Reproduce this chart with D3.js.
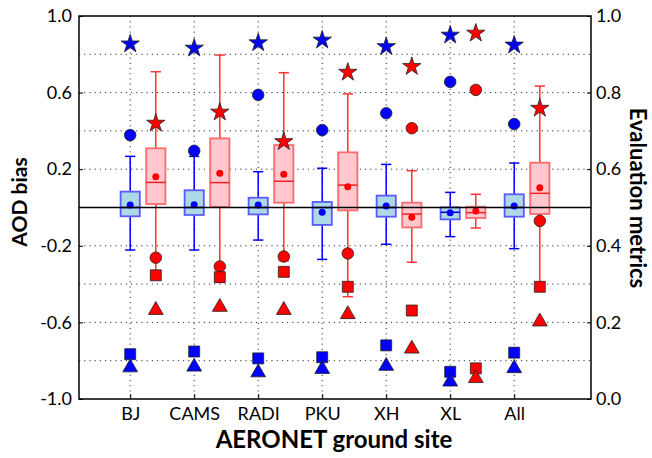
<!DOCTYPE html>
<html><head><meta charset="utf-8">
<script src="https://cdn.jsdelivr.net/npm/d3@7"></script>
<style>body{margin:0;background:#fff}svg{display:block}text{font-family:Lato,"Open Sans",sans-serif}</style>
</head><body><svg id="c" width="652" height="458"></svg>
<script>
const categories = ["BJ","CAMS","RADI","PKU","XH","XL","All"];
const leftTicks = [1.0,0.6,0.2,-0.2,-0.6,-1.0];
const rightTicks = [1.0,0.8,0.6,0.4,0.2,0.0];
// blue box statistics (AOD bias)
const blueWhiskerLow = [-0.222,-0.222,-0.170,-0.271,-0.192,-0.152,-0.215];
const blueQ1 = [-0.046,-0.039,-0.036,-0.091,-0.048,-0.062,-0.048];
const blueMedian = [0.0,0.0,0.0,0.0,0.0,-0.025,0.0];
const blueQ3 = [0.083,0.090,0.051,0.029,0.062,0.001,0.069];
const blueWhiskerHigh = [0.267,0.267,0.187,0.205,0.225,0.079,0.232];
const blueMean = [0.013,0.015,0.013,-0.025,0.008,-0.027,0.008];
// red box statistics
const redWhiskerLow = [-0.36,-0.39,-0.278,-0.466,-0.286,-0.107,-0.41];
const redQ1 = [0.018,0.003,0.025,-0.015,-0.104,-0.055,-0.034];
const redMedian = [0.131,0.130,0.137,0.117,-0.034,-0.027,0.074];
const redQ3 = [0.309,0.361,0.326,0.288,0.025,0.004,0.234];
const redWhiskerHigh = [0.709,0.796,0.704,0.593,0.192,0.069,0.634];
const redMean = [0.161,0.179,0.173,0.109,-0.051,-0.018,0.103];
// evaluation metrics (right axis)
const blueStar = [0.927,0.916,0.930,0.937,0.920,0.950,0.924];
const blueCircle = [0.689,0.648,0.794,0.702,0.746,0.828,0.718];
const blueSquare = [0.117,0.124,0.106,0.109,0.140,0.071,0.121];
const blueTriangle = [0.082,0.084,0.069,0.078,0.086,0.045,0.080];
const redStar = [0.720,0.749,0.672,0.853,0.868,0.955,0.759];
const redCircle = [0.369,0.346,0.372,0.380,0.707,0.807,0.465];
const redSquare = [0.323,0.318,0.332,0.293,0.231,0.080,0.293];
const redTriangle = [0.232,0.240,0.232,0.221,0.131,0.054,0.202];

const svg = d3.select("#c");
const L=79, R=591, T=16, B=399;
const x = d3.scaleLinear().domain([0.2,8.2]).range([L,R]);
const y = d3.scaleLinear().domain([-1,1]).range([B,T]);
const yR = d3.scaleLinear().domain([0,1]).range([B,T]);
const pos = i => i+1;
const redOff = 0.4, boxW = 0.3, capW = 0.16;

// gridlines
const g = svg.append("g");
d3.range(-0.8,0.81,0.2).forEach(v=>{
  g.append("line").attr("x1",L).attr("x2",R).attr("y1",y(v)).attr("y2",y(v))
   .attr("stroke","#333").attr("stroke-width",1).attr("stroke-dasharray","1.2,4");
});
categories.forEach((c,i)=>{
  g.append("line").attr("x1",x(pos(i))).attr("x2",x(pos(i))).attr("y1",T).attr("y2",B)
   .attr("stroke","#333").attr("stroke-width",1).attr("stroke-dasharray","1.2,4");
});

function drawBox(xc, lo, q1, med, q3, hi, mean, col){
  const gb = svg.append("g");
  gb.append("line").attr("x1",x(xc)).attr("x2",x(xc)).attr("y1",y(lo)).attr("y2",y(hi))
    .attr("stroke",col.wh).attr("stroke-width",1.5);
  [lo,hi].forEach(v=>gb.append("line").attr("x1",x(xc-capW/2)).attr("x2",x(xc+capW/2))
    .attr("y1",y(v)).attr("y2",y(v)).attr("stroke",col.wh).attr("stroke-width",1.5));
  gb.append("rect").attr("x",x(xc-boxW/2)).attr("width",x(xc+boxW/2)-x(xc-boxW/2))
    .attr("y",y(q3)).attr("height",y(q1)-y(q3)).attr("fill",col.fill)
    .attr("stroke",col.box).attr("stroke-width",1.8);
  gb.append("line").attr("x1",x(xc-boxW/2)).attr("x2",x(xc+boxW/2))
    .attr("y1",y(med)).attr("y2",y(med)).attr("stroke",col.med).attr("stroke-width",1.5);
  gb.append("circle").attr("cx",x(xc)).attr("cy",y(mean)).attr("r",3.5).attr("fill",col.mean);
}
const blueCol = {wh:"#0000ff", box:"#5a5aff", fill:"#add8e6", med:"#0000cc", mean:"#0000ff"};
const redCol = {wh:"#ff3333", box:"#ff6a6a", fill:"#ffc8d0", med:"#ee2222", mean:"#ff0000"};
categories.forEach((c,i)=>{
  drawBox(pos(i), blueWhiskerLow[i], blueQ1[i], blueMedian[i], blueQ3[i], blueWhiskerHigh[i], blueMean[i], blueCol);
  drawBox(pos(i)+redOff, redWhiskerLow[i], redQ1[i], redMedian[i], redQ3[i], redWhiskerHigh[i], redMean[i], redCol);
});

// zero line
svg.append("line").attr("x1",L).attr("x2",R).attr("y1",y(0)).attr("y2",y(0))
  .attr("stroke","#000").attr("stroke-width",1.5);

// markers
const sym = {
  star: d3.symbol().type(d3.symbolStar).size(105),
  circle: d3.symbol().type(d3.symbolCircle).size(105),
  square: d3.symbol().type(d3.symbolSquare).size(120),
  triangle: d3.symbol().type(d3.symbolTriangle).size(95)
};
function drawMarkers(arr, type, off, fill){
  svg.append("g").selectAll("path").data(arr).join("path")
    .attr("d", sym[type]())
    .attr("transform",(d,i)=>`translate(${x(pos(i)+off)},${yR(d)})`)
    .attr("fill",fill).attr("stroke","#222").attr("stroke-width",0.8);
}
drawMarkers(blueStar,"star",0,"#0000ff");
drawMarkers(blueCircle,"circle",0,"#0000ff");
drawMarkers(blueSquare,"square",0,"#0000ff");
drawMarkers(blueTriangle,"triangle",0,"#0000ff");
drawMarkers(redStar,"star",redOff,"#ff0000");
drawMarkers(redCircle,"circle",redOff,"#ff0000");
drawMarkers(redSquare,"square",redOff,"#ff0000");
drawMarkers(redTriangle,"triangle",redOff,"#ff0000");

// axes
const fmt = d => d.toFixed(1);
const axL = d3.axisLeft(y).tickValues(leftTicks).tickSize(-4).tickPadding(7).tickFormat(fmt);
const axR = d3.axisRight(yR).tickValues(rightTicks).tickSize(-4).tickPadding(5).tickFormat(fmt);
const axB = d3.axisBottom(x).tickValues(categories.map((c,i)=>pos(i))).tickSize(-5).tickPadding(8)
  .tickFormat((d,i)=>categories[i]);
const styleAx = s => { s.select(".domain").remove(); s.selectAll("line").attr("stroke","#000");
  s.selectAll("text").attr("font-size",18).attr("fill","#000").attr("font-family","Lato,'Open Sans',sans-serif"); };
svg.append("g").attr("transform",`translate(${L},0)`).call(axL).call(styleAx);
svg.append("g").attr("transform",`translate(${R},0)`).call(axR).call(styleAx);
svg.append("g").attr("transform",`translate(0,${B})`).call(axB).call(styleAx);

svg.append("rect").attr("x",L).attr("y",T).attr("width",R-L).attr("height",B-T)
  .attr("fill","none").attr("stroke","#000").attr("stroke-width",1.5);

// titles
svg.append("text").attr("x",334).attr("y",448).attr("text-anchor","middle")
  .attr("font-size",24).attr("font-weight","bold").text("AERONET ground site");
svg.append("text").attr("transform",`translate(27,202) rotate(-90)`).attr("text-anchor","middle")
  .attr("font-size",21).attr("font-weight","bold").text("AOD bias");
svg.append("text").attr("transform",`translate(630,198) rotate(90)`).attr("text-anchor","middle")
  .attr("font-size",22).attr("font-weight","bold").text("Evaluation metrics");
</script></body></html>
